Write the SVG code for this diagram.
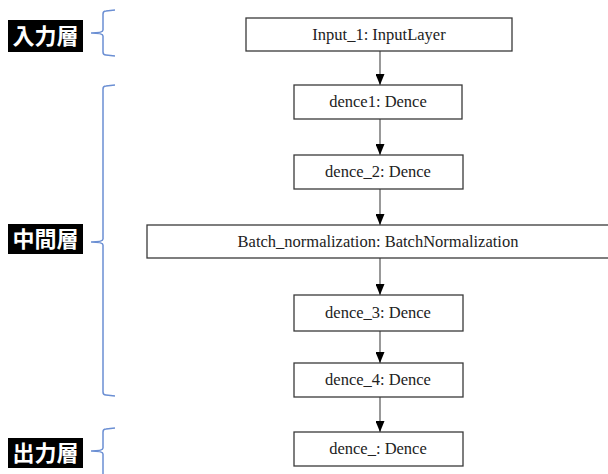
<svg xmlns="http://www.w3.org/2000/svg" width="608" height="474" viewBox="0 0 608 474">
<style>
.box{fill:#fff;stroke:#3a3a3a;stroke-width:1.3}
.lbl{font-family:"Liberation Serif","Times New Roman","DejaVu Serif",serif;font-size:16.5px;fill:#222;text-anchor:middle}
.tag{fill:#000}
.tagt{font-family:"Noto Sans CJK JP",sans-serif;font-weight:bold;font-size:22px;fill:#fff;text-anchor:middle}
.brace{fill:none;stroke:#6b8fd3;stroke-width:1.5}
.edge{stroke:#444;stroke-width:1.1;fill:none;marker-end:url(#ah)}
</style>
<defs>
<marker id="ah" markerWidth="11" markerHeight="9" refX="11" refY="4.5" orient="auto" markerUnits="userSpaceOnUse" viewBox="0 0 11 9">
<path d="M0,0 L11,4.5 L0,9 Z" fill="#000"/>
</marker>
</defs>
<g id="connectors">
<line class="edge" x1="380" y1="51" x2="380" y2="85"/>
<line class="edge" x1="380" y1="119" x2="380" y2="155"/>
<line class="edge" x1="380" y1="189" x2="380" y2="225"/>
<line class="edge" x1="380" y1="258" x2="380" y2="295"/>
<line class="edge" x1="380" y1="331" x2="380" y2="363"/>
<line class="edge" x1="380" y1="397" x2="380" y2="432"/>
</g>
<g font-family="Liberation Serif, DejaVu Serif, serif">
<g id="input_1">
<rect class="box" x="246" y="18" width="266" height="33"/>
<text class="lbl" x="379" y="40" font-family="Liberation Serif, serif">Input_1: InputLayer</text>
</g>
<g id="dence1">
<rect class="box" x="294" y="85" width="168" height="34"/>
<text class="lbl" x="378" y="107" font-family="Liberation Serif, serif">dence1: Dence</text>
</g>
<g id="dence_2">
<rect class="box" x="294" y="155" width="169" height="34"/>
<text class="lbl" x="378" y="177" font-family="Liberation Serif, serif">dence_2: Dence</text>
</g>
<g id="batch_normalization">
<rect class="box" x="147" y="225" width="470" height="33"/>
<text class="lbl" x="378" y="247" font-family="Liberation Serif, serif">Batch_normalization: BatchNormalization</text>
</g>
<g id="dence_3">
<rect class="box" x="294" y="295" width="169" height="36"/>
<text class="lbl" x="378" y="318" font-family="Liberation Serif, serif">dence_3: Dence</text>
</g>
<g id="dence_4">
<rect class="box" x="294" y="363" width="169" height="34"/>
<text class="lbl" x="378" y="385" font-family="Liberation Serif, serif">dence_4: Dence</text>
</g>
<g id="dence_">
<rect class="box" x="294" y="432" width="169" height="34"/>
<text class="lbl" x="378" y="454" font-family="Liberation Serif, serif">dence_: Dence</text>
</g>
</g>
<g id="input_layer_label">
<rect class="tag" x="8" y="20" width="75" height="32"/>
<text class="tagt" x="45.5" y="44">入力層</text>
<path class="brace" d="M115,10 L106,11 Q103,11 103,14 L103,30 Q103,33 91,33 Q103,33 103,36 L103,52 Q103,55 106,55 L115,56"/>
</g>
<g id="middle_layer_label">
<rect class="tag" x="8" y="224" width="75" height="30"/>
<text class="tagt" x="45.5" y="247">中間層</text>
<path class="brace" d="M115,85 L106,86 Q103,86 103,89 L103,239 Q103,242 91,242 Q103,242 103,245 L103,392 Q103,395 106,395 L115,396"/>
</g>
<g id="output_layer_label">
<rect class="tag" x="8" y="438" width="75" height="30"/>
<text class="tagt" x="45.5" y="461">出力層</text>
<path class="brace" d="M115,428 L106,429 Q103,429 103,432 L103,448 Q103,451 91,451 Q103,451 103,454 L103,480"/>
</g>
</svg>
